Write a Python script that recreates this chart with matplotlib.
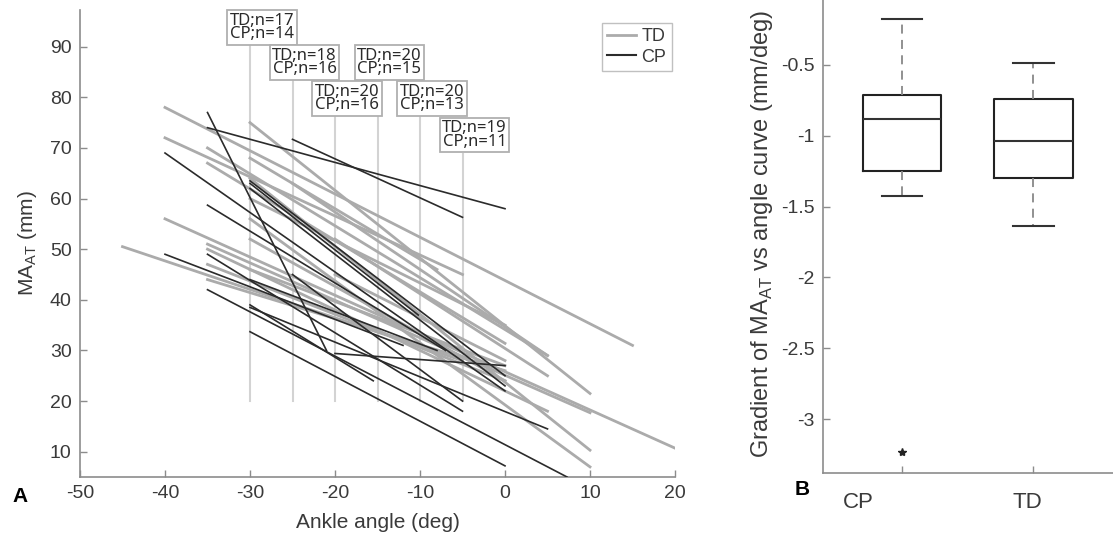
import numpy as np
import matplotlib
matplotlib.use("Agg")
import matplotlib.pyplot as plt
from matplotlib.lines import Line2D

plt.rcParams['font.family'] = ['Liberation Sans', 'DejaVu Sans']
plt.rcParams['axes.unicode_minus'] = False

# ---- panel A : MA_AT vs ankle angle, one straight segment per subject ----
# TD group (start angle, start MA, end angle, end MA)
td_x0 = [-45, -40, -40, -40, -35, -35, -30, -35, -35, -30, -30, -30, -25, -30, -35, -20, -30, -20, -30, -35]
td_y0 = [50.5, 78, 72, 56, 70, 67, 75, 51, 50, 64, 56, 60, 63, 46, 47, 52, 52, 45, 68, 44]
td_x1 = [-5, 15, -5, 20, 5, 0, 10, 10, 5, 10, 10, 0, 5, 0, 0, 5, 0, 0, -8, 0]
td_y1 = [28, 31, 45, 10.7, 29, 31.4, 21.5, 17.7, 18, 10.3, 7, 35, 29, 27, 24, 25, 24, 28, 46, 26]

# CP group
cp_x0 = [-35, -35, -40, -35, -40, -35, -35, -30, -30, -30, -30, -30, -30, -30, -25, -25, -20]
cp_y0 = [77, 74, 69, 58.7, 49, 49, 42, 33.7, 63.5, 63, 62, 39, 38.5, 44, 71.7, 45, 29.4]
cp_x1 = [-21, 0, 0, -7, -12, -5, 7.3, 0, 0, -10.2, 0, -15.5, 5, -8, -5, -5, 0]
cp_y1 = [30, 58, 22, 30, 31, 18, 5, 7.2, 25, 37, 23, 24, 14.5, 30, 56.3, 20, 27]

# sample-size markers
n_angles = [-30, -25, -20, -15, -10, -5]
n_td = [17, 18, 20, 20, 20, 19]
n_cp = [14, 16, 16, 15, 13, 11]
n_top = [90.1, 83.2, 76.1, 83.2, 76.1, 68.9]   # where each guide line ends

# ---- panel B : gradient boxplots ----
groups = ['CP', 'TD']
med = [-0.884, -1.037]
q1 = [-1.248, -1.30]
q3 = [-0.715, -0.74]
whislo = [-1.428, -1.634]
whishi = [-0.178, -0.488]
outliers = [[-3.23], []]

td_col = '#ababab'
cp_col = '#2b2b2b'
txt_col = '#3a3a3a'
ax_col = '#8c8c8c'

fig = plt.figure(figsize=(11.13, 5.52), dpi=100)
ax = fig.add_axes([80 / 1113, 75 / 552, 595 / 1113, 467 / 552])
ax2 = fig.add_axes([822.7 / 1113, 79 / 552, 290 / 1113, 479 / 552])

# guide lines
for a, top in zip(n_angles, n_top):
    ax.plot([a, a], [20, top], color='#d3d3d3', lw=1.5, zorder=1)

for x0, y0, x1, y1 in zip(td_x0, td_y0, td_x1, td_y1):
    ax.plot([x0, x1], [y0, y1], color=td_col, lw=2.0, zorder=2)
for x0, y0, x1, y1 in zip(cp_x0, cp_y0, cp_x1, cp_y1):
    ax.plot([x0, x1], [y0, y1], color=cp_col, lw=1.2, zorder=3)

for a, top, nt, nc in zip(n_angles, n_top, n_td, n_cp):
    ax.text(a + 1.41, top + 0.75, 'TD;n=%d\nCP;n=%d' % (nt, nc),
            ha='center', va='bottom', fontsize=12, color='#2a2a2a',
            family='Noto Sans', linespacing=0.8, zorder=5,
            bbox=dict(boxstyle='square,pad=0.15', fc='white', ec='#b0b0b0', lw=1.3))

handles = [Line2D([], [], color=td_col, lw=2.0), Line2D([], [], color=cp_col, lw=1.5)]
leg = ax.legend(handles, ['TD', 'CP'], loc='upper left', bbox_to_anchor=(0.877, 0.973),
                borderaxespad=0, fontsize=13, handlelength=1.6, handletextpad=0.3,
                borderpad=0.3, labelspacing=0.2, fancybox=False, framealpha=1)
leg.get_frame().set_edgecolor('#c0c0c0')
for t in leg.get_texts():
    t.set_color(txt_col)

ax.set_xlim(-50, 20)
ax.set_ylim(5, 97.25)
ax.set_xticks(np.arange(-50, 21, 10))
ax.set_yticks(np.arange(10, 91, 10))
ax.set_xlabel('Ankle angle (deg)', fontsize=15, color=txt_col, labelpad=8)
ax.set_ylabel('MA$_\\mathregular{AT}$ (mm)', fontsize=15, color=txt_col, labelpad=8)

# boxplot
stats = []
for i in range(2):
    stats.append(dict(med=med[i], q1=q1[i], q3=q3[i], whislo=whislo[i],
                      whishi=whishi[i], fliers=outliers[i], label=groups[i]))
ax2.bxp(stats, positions=[1, 2], widths=0.6, capwidths=0.31,
        boxprops=dict(color='#222222', lw=1.5),
        medianprops=dict(color='#333333', lw=1.5),
        whiskerprops=dict(color='#888888', lw=1.3, linestyle=(0, (5, 3.5))),
        capprops=dict(color='#333333', lw=1.5),
        flierprops=dict(marker='*', markersize=6, markerfacecolor='#222222',
                        markeredgecolor='#222222'))
ax2.set_xlim(0.395, 2.605)
ax2.set_ylim(-3.38, 0)
ax2.set_xticks([1, 2])
ax2.set_xticklabels(['', ''])
ax2.set_yticks([-3, -2.5, -2, -1.5, -1, -0.5])
ax2.set_yticklabels(['-3', '-2.5', '-2', '-1.5', '-1', '-0.5'])
ax2.set_ylabel('Gradient of MA$_\\mathregular{AT}$ vs angle curve (mm/deg)',
               fontsize=17, color=txt_col, labelpad=4)
for x, g in zip([0.664, 1.954], groups):
    ax2.text(x, -0.062, g, transform=ax2.get_xaxis_transform(), ha='center',
             va='center', fontsize=16, color=txt_col)

for a in (ax, ax2):
    a.spines['top'].set_visible(False)
    a.spines['right'].set_visible(False)
    for s in ('left', 'bottom'):
        a.spines[s].set_color(ax_col)
        a.spines[s].set_linewidth(1.2)
    a.tick_params(direction='in', length=5, width=1, color=ax_col,
                  labelsize=14, labelcolor=txt_col, pad=6)

fig.text(20 / 1113, 1 - 497 / 552, 'A', fontsize=15, fontweight='bold',
         ha='center', va='center', color='black')
fig.text(802 / 1113, 1 - 489.5 / 552, 'B', fontsize=15, fontweight='bold',
         ha='center', va='center', color='black')

fig.savefig('out.png', dpi=100)
